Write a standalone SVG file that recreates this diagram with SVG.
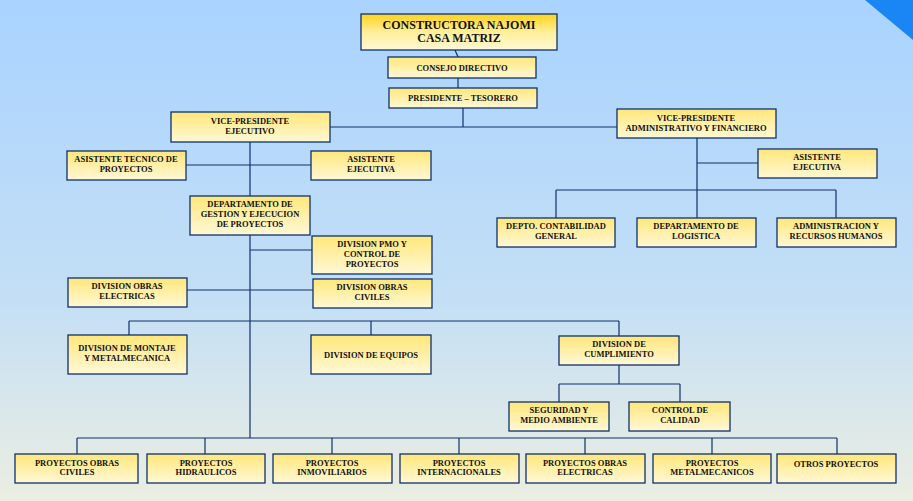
<svg xmlns="http://www.w3.org/2000/svg" width="913" height="501" viewBox="0 0 913 501">
<defs>
<linearGradient id="bg" x1="0" y1="0" x2="0" y2="1"><stop offset="0" stop-color="#a9d3ff"/><stop offset="0.6" stop-color="#c4dff5"/><stop offset="1" stop-color="#ebeee2"/></linearGradient>
<linearGradient id="bx" x1="0" y1="0" x2="0" y2="1"><stop offset="0" stop-color="#ffe77a"/><stop offset="1" stop-color="#fff8d6"/></linearGradient>
<linearGradient id="bt" x1="0" y1="0" x2="0" y2="1"><stop offset="0" stop-color="#ffd21a"/><stop offset="0.5" stop-color="#ffef9a"/><stop offset="1" stop-color="#fff8d6"/></linearGradient>
</defs>
<style>
rect.b{fill:url(#bx);stroke:#10306a;stroke-width:1.3}
text{font-family:"Liberation Serif","Times New Roman",serif;font-weight:bold;font-size:8.5px;fill:#111;text-anchor:middle}
.c line{stroke:#10306a;stroke-width:1.2}
</style>
<rect width="913" height="501" fill="url(#bg)"/>
<polygon points="865,0 913,0 913,40" fill="#1a86f5"/>
<g class="c">
<line x1="455" y1="50" x2="458" y2="57"/>
<line x1="458" y1="78" x2="458" y2="88"/>
<line x1="463" y1="108" x2="463" y2="127"/>
<line x1="330" y1="127" x2="617" y2="127"/>
<line x1="250" y1="142" x2="250" y2="438"/>
<line x1="186" y1="165" x2="311" y2="165"/>
<line x1="250" y1="250" x2="312" y2="250"/>
<line x1="187" y1="290" x2="313" y2="290"/>
<line x1="129" y1="321" x2="619" y2="321"/>
<line x1="129" y1="321" x2="129" y2="335"/>
<line x1="371" y1="321" x2="371" y2="335"/>
<line x1="619" y1="321" x2="619" y2="336"/>
<line x1="619" y1="365" x2="619" y2="384"/>
<line x1="559" y1="384" x2="680" y2="384"/>
<line x1="559" y1="384" x2="559" y2="402"/>
<line x1="680" y1="384" x2="680" y2="402"/>
<line x1="77" y1="438" x2="837" y2="438"/>
<line x1="77" y1="438" x2="77" y2="454"/>
<line x1="205" y1="438" x2="205" y2="454"/>
<line x1="332" y1="438" x2="332" y2="454"/>
<line x1="459" y1="438" x2="459" y2="454"/>
<line x1="585" y1="438" x2="585" y2="454"/>
<line x1="712" y1="438" x2="712" y2="454"/>
<line x1="837" y1="438" x2="837" y2="454"/>
<line x1="697" y1="138" x2="697" y2="190"/>
<line x1="697" y1="163" x2="758" y2="163"/>
<line x1="556" y1="190" x2="836" y2="190"/>
<line x1="556" y1="190" x2="556" y2="218"/>
<line x1="697" y1="190" x2="697" y2="218"/>
<line x1="836" y1="190" x2="836" y2="218"/>
</g>
<g id="top"><rect x="361" y="14" width="196" height="36" fill="url(#bt)" stroke="#10306a" stroke-width="1.3"/><text x="459" y="29" style="font-size:12px">CONSTRUCTORA NAJOMI</text><text x="459" y="42" style="font-size:12px">CASA MATRIZ</text></g>
<g id="consejo"><rect class="b" x="388" y="57" width="148" height="21"/><text x="462" y="70.5">CONSEJO DIRECTIVO</text></g>
<g id="presidente"><rect class="b" x="389" y="88" width="148" height="20"/><text x="463" y="101">PRESIDENTE – TESORERO</text></g>
<g id="vpe"><rect class="b" x="171" y="112" width="159" height="30"/><text x="250" y="124">VICE-PRESIDENTE</text><text x="250" y="134">EJECUTIVO</text></g>
<g id="vpa"><rect class="b" x="617" y="109" width="159" height="29"/><text x="696" y="121">VICE-PRESIDENTE</text><text x="696" y="131">ADMINISTRATIVO Y FINANCIERO</text></g>
<g id="atec"><rect class="b" x="67" y="151" width="119" height="29"/><text x="126" y="162">ASISTENTE TECNICO DE</text><text x="126" y="172">PROYECTOS</text></g>
<g id="aej1"><rect class="b" x="311" y="151" width="120" height="29"/><text x="371" y="162">ASISTENTE</text><text x="371" y="172">EJECUTIVA</text></g>
<g id="aej2"><rect class="b" x="758" y="149" width="119" height="29"/><text x="817" y="160">ASISTENTE</text><text x="817" y="170">EJECUTIVA</text></g>
<g id="conta"><rect class="b" x="497" y="218" width="118" height="29"/><text x="556" y="229">DEPTO. CONTABILIDAD</text><text x="556" y="239">GENERAL</text></g>
<g id="logi"><rect class="b" x="637" y="218" width="119" height="29"/><text x="696" y="229">DEPARTAMENTO DE</text><text x="696" y="239">LOGISTICA</text></g>
<g id="rrhh"><rect class="b" x="777" y="218" width="119" height="29"/><text x="836" y="229">ADMINISTRACION Y</text><text x="836" y="239">RECURSOS HUMANOS</text></g>
<g id="gestion"><rect class="b" x="190" y="196" width="120" height="39"/><text x="250" y="207">DEPARTAMENTO DE</text><text x="250" y="217">GESTION Y EJECUCION</text><text x="250" y="227">DE PROYECTOS</text></g>
<g id="pmo"><rect class="b" x="312" y="236" width="120" height="38"/><text x="372" y="247">DIVISION PMO Y</text><text x="372" y="257">CONTROL DE</text><text x="372" y="267">PROYECTOS</text></g>
<g id="elec"><rect class="b" x="68" y="278" width="119" height="29"/><text x="127" y="289">DIVISION OBRAS</text><text x="127" y="299">ELECTRICAS</text></g>
<g id="civ"><rect class="b" x="313" y="279" width="119" height="29"/><text x="372" y="290">DIVISION OBRAS</text><text x="372" y="300">CIVILES</text></g>
<g id="montaje"><rect class="b" x="68" y="335" width="119" height="39"/><text x="127" y="351">DIVISION DE MONTAJE</text><text x="127" y="361">Y METALMECANICA</text></g>
<g id="equipos"><rect class="b" x="311" y="335" width="120" height="39"/><text x="371" y="358">DIVISION DE EQUIPOS</text></g>
<g id="cumpl"><rect class="b" x="559" y="336" width="120" height="29"/><text x="619" y="347">DIVISION DE</text><text x="619" y="357">CUMPLIMIENTO</text></g>
<g id="seg"><rect class="b" x="509" y="402" width="100" height="29"/><text x="559" y="413">SEGURIDAD Y</text><text x="559" y="423">MEDIO AMBIENTE</text></g>
<g id="cal"><rect class="b" x="629" y="402" width="101" height="29"/><text x="680" y="413">CONTROL DE</text><text x="680" y="423">CALIDAD</text></g>
<g id="p1"><rect class="b" x="15" y="454" width="123" height="29"/><text x="77" y="466">PROYECTOS OBRAS</text><text x="77" y="475">CIVILES</text></g>
<g id="p2"><rect class="b" x="147" y="454" width="118" height="29"/><text x="206" y="466">PROYECTOS</text><text x="206" y="475">HIDRAULICOS</text></g>
<g id="p3"><rect class="b" x="273" y="454" width="119" height="29"/><text x="332" y="466">PROYECTOS</text><text x="332" y="475">INMOVILIARIOS</text></g>
<g id="p4"><rect class="b" x="400" y="454" width="119" height="29"/><text x="459" y="466">PROYECTOS</text><text x="459" y="475">INTERNACIONALES</text></g>
<g id="p5"><rect class="b" x="526" y="454" width="119" height="29"/><text x="585" y="466">PROYECTOS OBRAS</text><text x="585" y="475">ELECTRICAS</text></g>
<g id="p6"><rect class="b" x="653" y="454" width="118" height="29"/><text x="712" y="466">PROYECTOS</text><text x="712" y="475">METALMECANICOS</text></g>
<g id="p7"><rect class="b" x="777" y="454" width="119" height="29"/><text x="836" y="467">OTROS PROYECTOS</text></g>
</svg>
